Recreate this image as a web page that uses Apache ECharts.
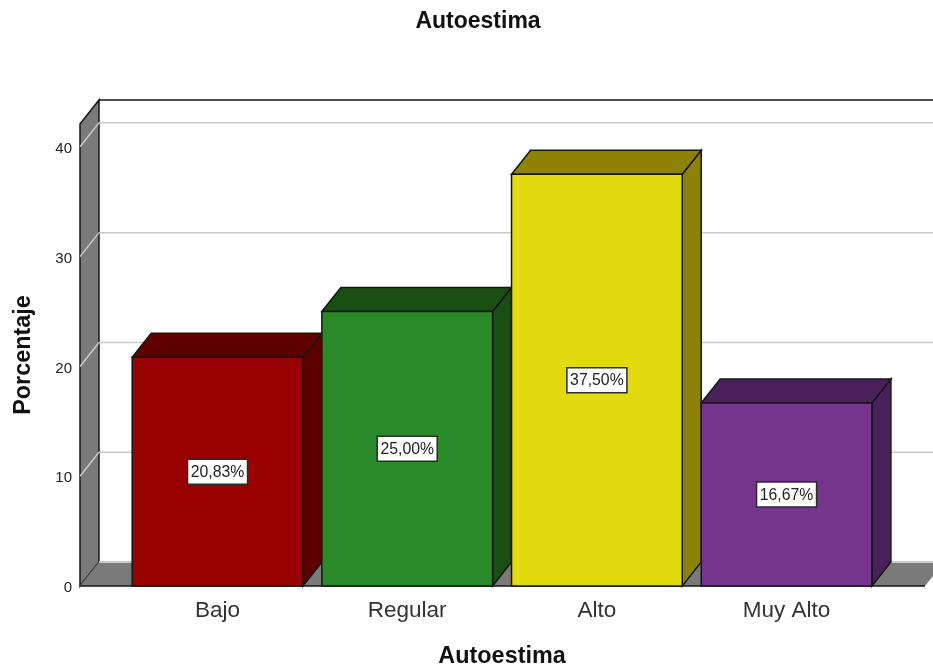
<!DOCTYPE html>
<html><head><meta charset="utf-8">
<style>html,body{margin:0;padding:0;background:#fff}#c{width:933px;height:669px}</style>
<script src="https://cdn.jsdelivr.net/npm/echarts@6/dist/echarts.min.js"></script>
</head><body><div id="c"></div>
<script>
const categories = ['Bajo','Regular','Alto','Muy Alto'];
const values = [20.83,25.00,37.50,16.67];
const yTicks = [0,10,20,30,40];
const frontColors = ['#990000','#2a8a2a','#e3d90f','#75358c'];
const darkColors = ['#5f0000','#1a4f14','#8c8207','#48215a'];

const DX = 19, DY = -24, LEFT_EXT = 42.7, RIGHT_EXT = 43.6, EDGE = '#161616', WALL = '#7a7a7a', GRID = '#c9c9c9';
const FONT = '"Liberation Sans", Arial, sans-serif';
const chart = echarts.init(document.getElementById('c'), null, {renderer:'canvas'});

function poly(points, fill, stroke, lw){
  return {type:'polygon', shape:{points}, style:{fill, stroke:stroke||EDGE, lineWidth:lw||1.5, lineJoin:'miter'}};
}
function line(x1,y1,x2,y2,stroke,lw){
  return {type:'line', shape:{x1,y1,x2,y2}, style:{stroke, lineWidth:lw}};
}

option = {
  animation:false,
  backgroundColor:'#fff',
  title:{text:'Autoestima', left:473, top:5, textAlign:'center',
    textStyle:{fontFamily:FONT,fontSize:23,fontWeight:'bold',color:'#111'}},
  grid:{left:122.7,right:51.6,top:124,bottom:83,outerBoundsMode:'none',containLabel:false},
  xAxis:{type:'category',data:categories,
    axisLine:{show:false},axisTick:{show:false},
    axisLabel:{fontFamily:FONT,fontSize:22.5,color:'#333',margin:13},
    name:'Autoestima',nameLocation:'middle',nameGap:59,
    nameTextStyle:{fontFamily:FONT,fontSize:23.4,fontWeight:'bold',color:'#111'}},
  yAxis:{type:'value',min:0,max:42.08,interval:10,offset:LEFT_EXT,
    axisLine:{show:false},axisTick:{show:false},splitLine:{show:false},
    axisLabel:{margin:8,showMaxLabel:false,
      rich:{t:{fontFamily:FONT,fontSize:15,color:'#222',padding:[4,0,0,0]}},
      formatter:v=>yTicks.includes(v)?'{t|'+v+'}':''},
    name:'Porcentaje',nameLocation:'middle',nameGap:45,
    nameTextStyle:{fontFamily:FONT,fontSize:23.4,fontWeight:'bold',color:'#111'}},
  series:[
    {type:'custom',z:1,silent:true,clip:false,data:[0],encode:{x:-1,y:-1},
     renderItem(params,api){
       const cs=params.coordSys;
       const L=cs.x-LEFT_EXT,R=cs.x+cs.width+RIGHT_EXT,T=cs.y,B=cs.y+cs.height;
       return {type:'group',children:[
         poly([[L+DX,T+DY],[R+DX+10,T+DY],[R+DX+10,B+DY],[L+DX,B+DY]],'#fff','none',0),
         poly([[L,T],[L+DX,T+DY],[L+DX,B+DY],[L,B]],WALL),
         poly([[L,B],[L+DX,B+DY],[R+DX,B+DY],[R,B]],WALL,'none',0),
         line(L+DX,T+DY,R+DX+10,T+DY,EDGE,1.5),
         line(L+DX,B+DY,R+DX+10,B+DY,GRID,2),
         line(L,B,R,B,EDGE,1.5),
         line(L,B,L+DX,B+DY,'#555',1)
       ]};
     }},
    {type:'custom',z:2,silent:true,clip:false,data:yTicks.slice(1),encode:{y:0},
     renderItem(params,api){
       const cs=params.coordSys;
       const L=cs.x-LEFT_EXT,R=cs.x+cs.width+RIGHT_EXT;
       const y=api.coord([0,api.value(0)])[1];
       return {type:'group',children:[
         line(L,y,L+DX,y+DY,GRID,1.5),
         line(L+DX,y+DY,R+DX+10,y+DY,GRID,1.5)
       ]};
     }},
    {type:'custom',z:3,silent:true,clip:false,
     data:categories.map((c,i)=>[i,values[i]]),encode:{x:0,y:1},
     renderItem(params,api){
       const i=api.value(0),v=api.value(1);
       const p=api.coord([i,v]),b=api.coord([i,0]);
       const w=api.size([1,0])[0]*0.9;
       const x0=p[0]-w/2,x1=p[0]+w/2,t=p[1],bt=b[1],mid=(t+bt)/2;
       const txt=v.toFixed(2).replace('.',',')+'%';
       return {type:'group',children:[
         poly([[x1,t],[x1+DX,t+DY],[x1+DX,bt+DY],[x1,bt]],darkColors[i]),
         poly([[x0,t],[x0+DX,t+DY],[x1+DX,t+DY],[x1,t]],darkColors[i]),
         poly([[x0,t],[x1,t],[x1,bt],[x0,bt]],frontColors[i]),
         {type:'rect',shape:{x:p[0]-30,y:mid-12.5,width:60,height:25},
          style:{fill:'#fff',stroke:'#2a2a2a',lineWidth:1.5}},
         {type:'text',x:p[0],y:mid+1,
          style:{text:txt,fill:'#222',font:'15.8px '+FONT,align:'center',verticalAlign:'middle'}}
       ]};
     }}
  ]
};
chart.setOption(option);
</script></body></html>
